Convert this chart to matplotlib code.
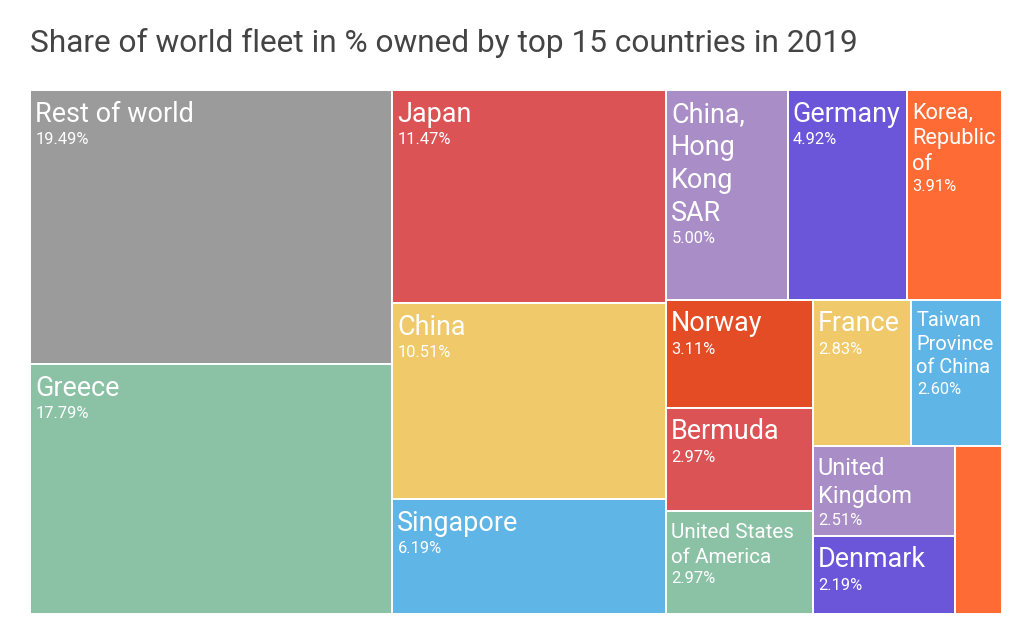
import matplotlib
matplotlib.use("Agg")
import matplotlib.pyplot as plt
from matplotlib.patches import Rectangle

# ---------------- data ----------------
title = "Share of world fleet in % owned by top 15 countries in 2019"
names = ["Rest of world", "Greece", "Japan", "China", "Singapore",
         "China,\nHong\nKong\nSAR", "Germany", "Korea,\nRepublic\nof",
         "Norway", "Bermuda", "United States\nof America", "France",
         "Taiwan\nProvince\nof China", "United\nKingdom", "Denmark", ""]
shares = [19.49, 17.79, 11.47, 10.51, 6.19, 5.00, 4.92, 3.91,
          3.11, 2.97, 2.97, 2.83, 2.60, 2.51, 2.19, 1.54]

# ---------------- styles ----------------
colors = ["#9b9b9b", "#8bc2a5", "#dc5356", "#efc96a", "#5fb5e5",
          "#a98dc6", "#6b55d8", "#ff6b35", "#e44c25", "#dc5356",
          "#8bc2a5", "#efc96a", "#5fb5e5", "#a98dc6", "#6b55d8", "#ff6b35"]
name_px_default = 27
name_px = {"Korea,\nRepublic\nof": 21.8, "Taiwan\nProvince\nof China": 20,
           "United States\nof America": 20.7, "United\nKingdom": 23.5}
pct_px = 16.5
FONT = "Roboto"

X0, Y0, X1, Y1 = 30, 90, 1002, 614  # plotting area in pixels


def squarify(values, x0, y0, x1, y1, ratio=(1 + 5 ** 0.5) / 2):
    """d3-style squarified treemap."""
    rects = [None] * len(values)
    n = len(values)
    i0 = i1 = 0
    value = float(sum(values))
    while i0 < n:
        dx, dy = x1 - x0, y1 - y0
        sum_v = values[i1]
        i1 += 1
        min_v = max_v = sum_v
        alpha = max(dy / dx, dx / dy) / (value * ratio)
        beta = sum_v * sum_v * alpha
        min_ratio = max(max_v / beta, beta / min_v)
        while i1 < n:
            nv = values[i1]
            sum_v += nv
            min_v = min(min_v, nv)
            max_v = max(max_v, nv)
            beta = sum_v * sum_v * alpha
            new_ratio = max(max_v / beta, beta / min_v)
            if new_ratio > min_ratio:
                sum_v -= nv
                break
            min_ratio = new_ratio
            i1 += 1
        row = list(range(i0, i1))
        if dx < dy:  # dice: row across the top
            h = dy * sum_v / value
            cx = x0
            for k in row:
                w = dx * values[k] / sum_v
                rects[k] = (cx, y0, cx + w, y0 + h)
                cx += w
            y0 += h
        else:  # slice: column at the left
            w = dx * sum_v / value
            cy = y0
            for k in row:
                h = dy * values[k] / sum_v
                rects[k] = (x0, cy, x0 + w, cy + h)
                cy += h
            x0 += w
        value -= sum_v
        i0 = i1
    return rects


fig = plt.figure(figsize=(10.24, 6.27), dpi=100)
ax = fig.add_axes([0, 0, 1, 1])
ax.set_xlim(0, 1024)
ax.set_ylim(627, 0)
ax.axis("off")

pt = lambda px: px * 72 / 100

ax.text(30, 51.5, title, fontsize=pt(31.7), color="#444444", family=FONT,
        va="baseline", ha="left")

rects = squarify(shares, X0, Y0, X1, Y1)
for nm, v, c, (a, b, cc, d) in zip(names, shares, colors, rects):
    ax.add_patch(Rectangle((a, b), cc - a, d - b, facecolor=c,
                           edgecolor="white", linewidth=1.4))
    if not nm:
        continue
    fpx = name_px.get(nm, name_px_default)
    step = 1.35 * fpx - 3.5
    base = b + 12.5 + 0.711 * fpx
    for line in nm.split("\n"):
        ax.text(a + 5, base, line, fontsize=pt(fpx), color="white",
                family=FONT, va="baseline", ha="left")
        base += step
    base += -step + 15 + 0.27 * fpx
    ax.text(a + 5.5, base, f"{v:.2f}%", fontsize=pt(pct_px), color="white",
            family=FONT, va="baseline", ha="left")

fig.savefig("out.png", dpi=100, facecolor="white")
